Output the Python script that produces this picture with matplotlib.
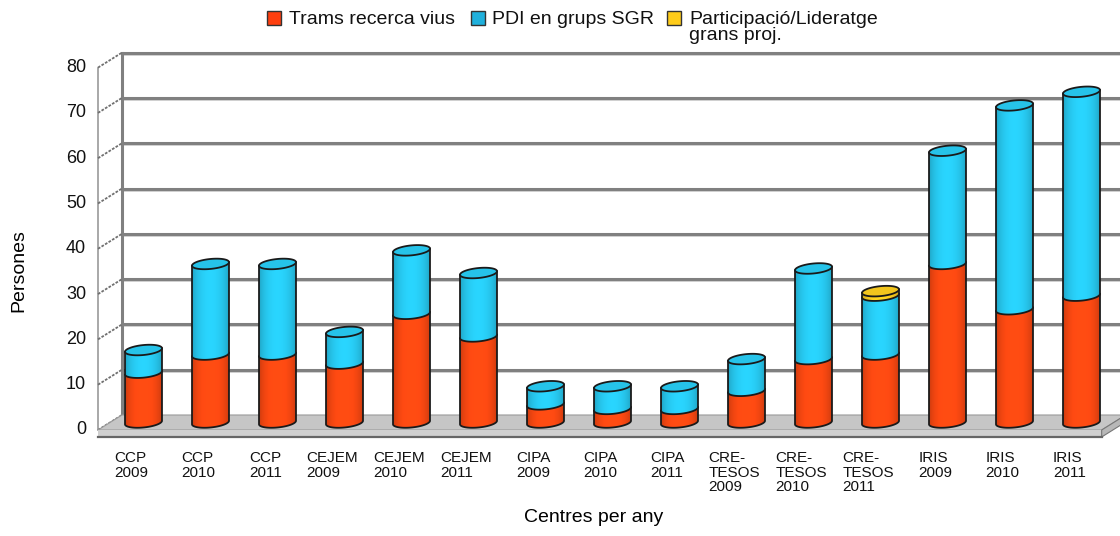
import numpy as np
import matplotlib
matplotlib.use('Agg')
import matplotlib.pyplot as plt
from matplotlib.patches import Polygon, Rectangle
from matplotlib.colors import to_rgb

# data
centres = ['CCP\n2009', 'CCP\n2010', 'CCP\n2011',
           'CEJEM\n2009', 'CEJEM\n2010', 'CEJEM\n2011',
           'CIPA\n2009', 'CIPA\n2010', 'CIPA\n2011',
           'CRE-\nTESOS\n2009', 'CRE-\nTESOS\n2010', 'CRE-\nTESOS\n2011',
           'IRIS\n2009', 'IRIS\n2010', 'IRIS\n2011']
trams = [11, 15, 15, 13, 24, 19, 4, 3, 3, 7, 14, 15, 35, 25, 28]
pdi = [5, 20, 20, 7, 14, 14, 4, 5, 5, 7, 20, 13, 25, 45, 45]
grans = [0, 0, 0, 0, 0, 0, 0, 0, 0, 0, 0, 1, 0, 0, 0]
y_ticks = [0, 10, 20, 30, 40, 50, 60, 70, 80]
series_names = ['Trams recerca vius', 'PDI en grups SGR', 'Participació/Lideratge\ngrans proj.']
series_colors = ['#ff4a12', '#28cdf5', '#ffcf1f']
legend_colors = ['#ff3f0f', '#1fb0dc', '#ffcc1a']

plt.rcParams['font.family'] = ['Liberation Sans', 'DejaVu Sans']

W, H = 1120, 536
X0, SX = 131.5, 67.0      # pixel of category 0 on the front plane, px per category
Y0, SY = 430.0, 4.53      # pixel of value 0 on the front plane, px per unit
DX, DY = 24 / SX, 15 / SY  # depth offset (front -> back wall)
R = 0.276                 # cylinder radius (category units)
EH = 2.2                  # ellipse height (value units)
K = (3.5 / SY) / (2 * R)  # slight tilt of the ellipses

fig = plt.figure(figsize=(W / 100, H / 100), dpi=100)
ax = fig.add_axes([0, 0, 1, 1])
ax.set_xlim(-X0 / SX, (W - X0) / SX)
ax.set_ylim((Y0 - H) / SY, Y0 / SY)
ax.axis('off')

xl = -0.5
xr = len(centres) - 0.52
ymax = y_ticks[-1]

# back wall + grid
ax.add_patch(Rectangle((xl + DX, DY), xr - xl + 1, ymax, fc='white', ec='none', zorder=1))
for v in y_ticks[1:]:
    ax.plot([xl + DX, xr + DX + 1], [v + DY - 0.45] * 2, color='#d2d2d2', lw=1.4, zorder=2)
    ax.plot([xl + DX, xr + DX + 1], [v + DY] * 2, color='#808080', lw=2.2, zorder=2.1,
            solid_capstyle='butt')
ax.plot([xl + DX] * 2, [DY, ymax + DY], color='#808080', lw=2.2, zorder=2.2)

# left side wall
ax.add_patch(Polygon([(xl, 0), (xl + DX, DY), (xl + DX, ymax + DY), (xl, ymax)],
                     closed=True, fc='white', ec='none', zorder=1.5))
ax.plot([xl, xl], [0, ymax], color='#9a9a9a', lw=1.2, zorder=2.3)
for v in y_ticks:
    ax.plot([xl, xl + DX], [v, v + DY], color='#707070', lw=1.3,
            ls=(0, (1.5, 0.8)), zorder=2.3)

# floor
slab = 7 / SY
ax.add_patch(Polygon([(xl, 0), (xr, 0), (xr + DX, DY), (xl + DX, DY)],
                     closed=True, fc='#c6c6c6', ec='#9a9a9a', lw=0.8, zorder=3))
ax.add_patch(Rectangle((xl, -slab), xr - xl, slab, fc='#d0d0d0', ec='none', zorder=3))
ax.plot([xl, xr], [-slab, -slab], color='#666666', lw=1.6, zorder=3.1)
ax.add_patch(Polygon([(xr, 0), (xr + DX, DY), (xr + DX, DY - slab), (xr, -slab)],
                     closed=True, fc='#b8b8b8', ec='#777777', lw=0.8, zorder=3))


def ellipse_pts(cx, yc, t):
    ex = R * np.cos(t)
    return cx + ex, yc + EH / 2 * np.sin(t) + K * ex


def shade_image(color):
    u = np.linspace(0, 1, 64)
    f = 0.78 + 0.26 * np.sin(np.pi * u) ** 0.6
    rgb = np.clip(np.outer(f, to_rgb(color)), 0, 1)
    return rgb[np.newaxis, :, :]


def draw_segment(cx, y0, y1, color, z):
    bx, by = ellipse_pts(cx, y0, np.linspace(np.pi, 2 * np.pi, 50))
    pts = [(cx - R, y1 - K * R)] + list(zip(bx, by)) + [(cx + R, y1 + K * R)]
    poly = Polygon(pts, closed=True, fc='none', ec='#1a1a1a', lw=1.3, zorder=z + 0.05)
    ax.add_patch(poly)
    im = ax.imshow(shade_image(color), extent=[cx - R, cx + R, y0 - EH / 2 - K * R, y1 + K * R],
                   aspect='auto', interpolation='bilinear', zorder=z)
    im.set_clip_path(poly)


base = DY / 2
for i in range(len(centres)):
    cx = i + DX / 2
    bottom = base
    z = 5 + i * 4
    top_color = None
    for k, vals in enumerate([trams, pdi, grans]):
        v = vals[i]
        if v <= 0:
            continue
        draw_segment(cx, bottom, bottom + v, series_colors[k], z + k)
        bottom += v
        top_color = series_colors[k]
    top_rgb = np.clip(np.array(to_rgb(top_color)) * 0.95, 0, 1)
    tx, ty = ellipse_pts(cx, bottom, np.linspace(0, 2 * np.pi, 80))
    ax.add_patch(Polygon(list(zip(tx, ty)), closed=True, fc=top_rgb, ec='#1a1a1a',
                         lw=1.3, zorder=z + 3))

# y tick labels
for v in y_ticks:
    ax.text((86 - X0) / SX, v, str(v), ha='right', va='center', fontsize=13, color='#111111')

# x tick labels
for i, lab in enumerate(centres):
    ax.text(i, (Y0 - 451) / SY, lab, ha='center', va='top', multialignment='left',
            fontsize=11, linespacing=1.05, color='#111111')

# axis titles
fig.text(19 / W, 1 - 271 / H, 'Persones', rotation=90, ha='center', va='center', fontsize=14)
fig.text(594 / W, 1 - 518 / H, 'Centres per any', ha='center', va='center', fontsize=14)

# legend
leg_box_x = [267, 471, 667]
leg_text_x = [289, 492, 689]
for bx, tx, name, col in zip(leg_box_x, leg_text_x, series_names, legend_colors):
    fig.add_artist(Rectangle((bx / W, 1 - 25 / H), 14 / W, 14 / H, transform=fig.transFigure,
                             fc=col, ec='#333333', lw=1))
    fig.text(tx / W, 1 - 11 / H, name, ha='left', va='top', fontsize=14,
             linespacing=0.95, color='#111111')

fig.savefig('out.png', dpi=100)
